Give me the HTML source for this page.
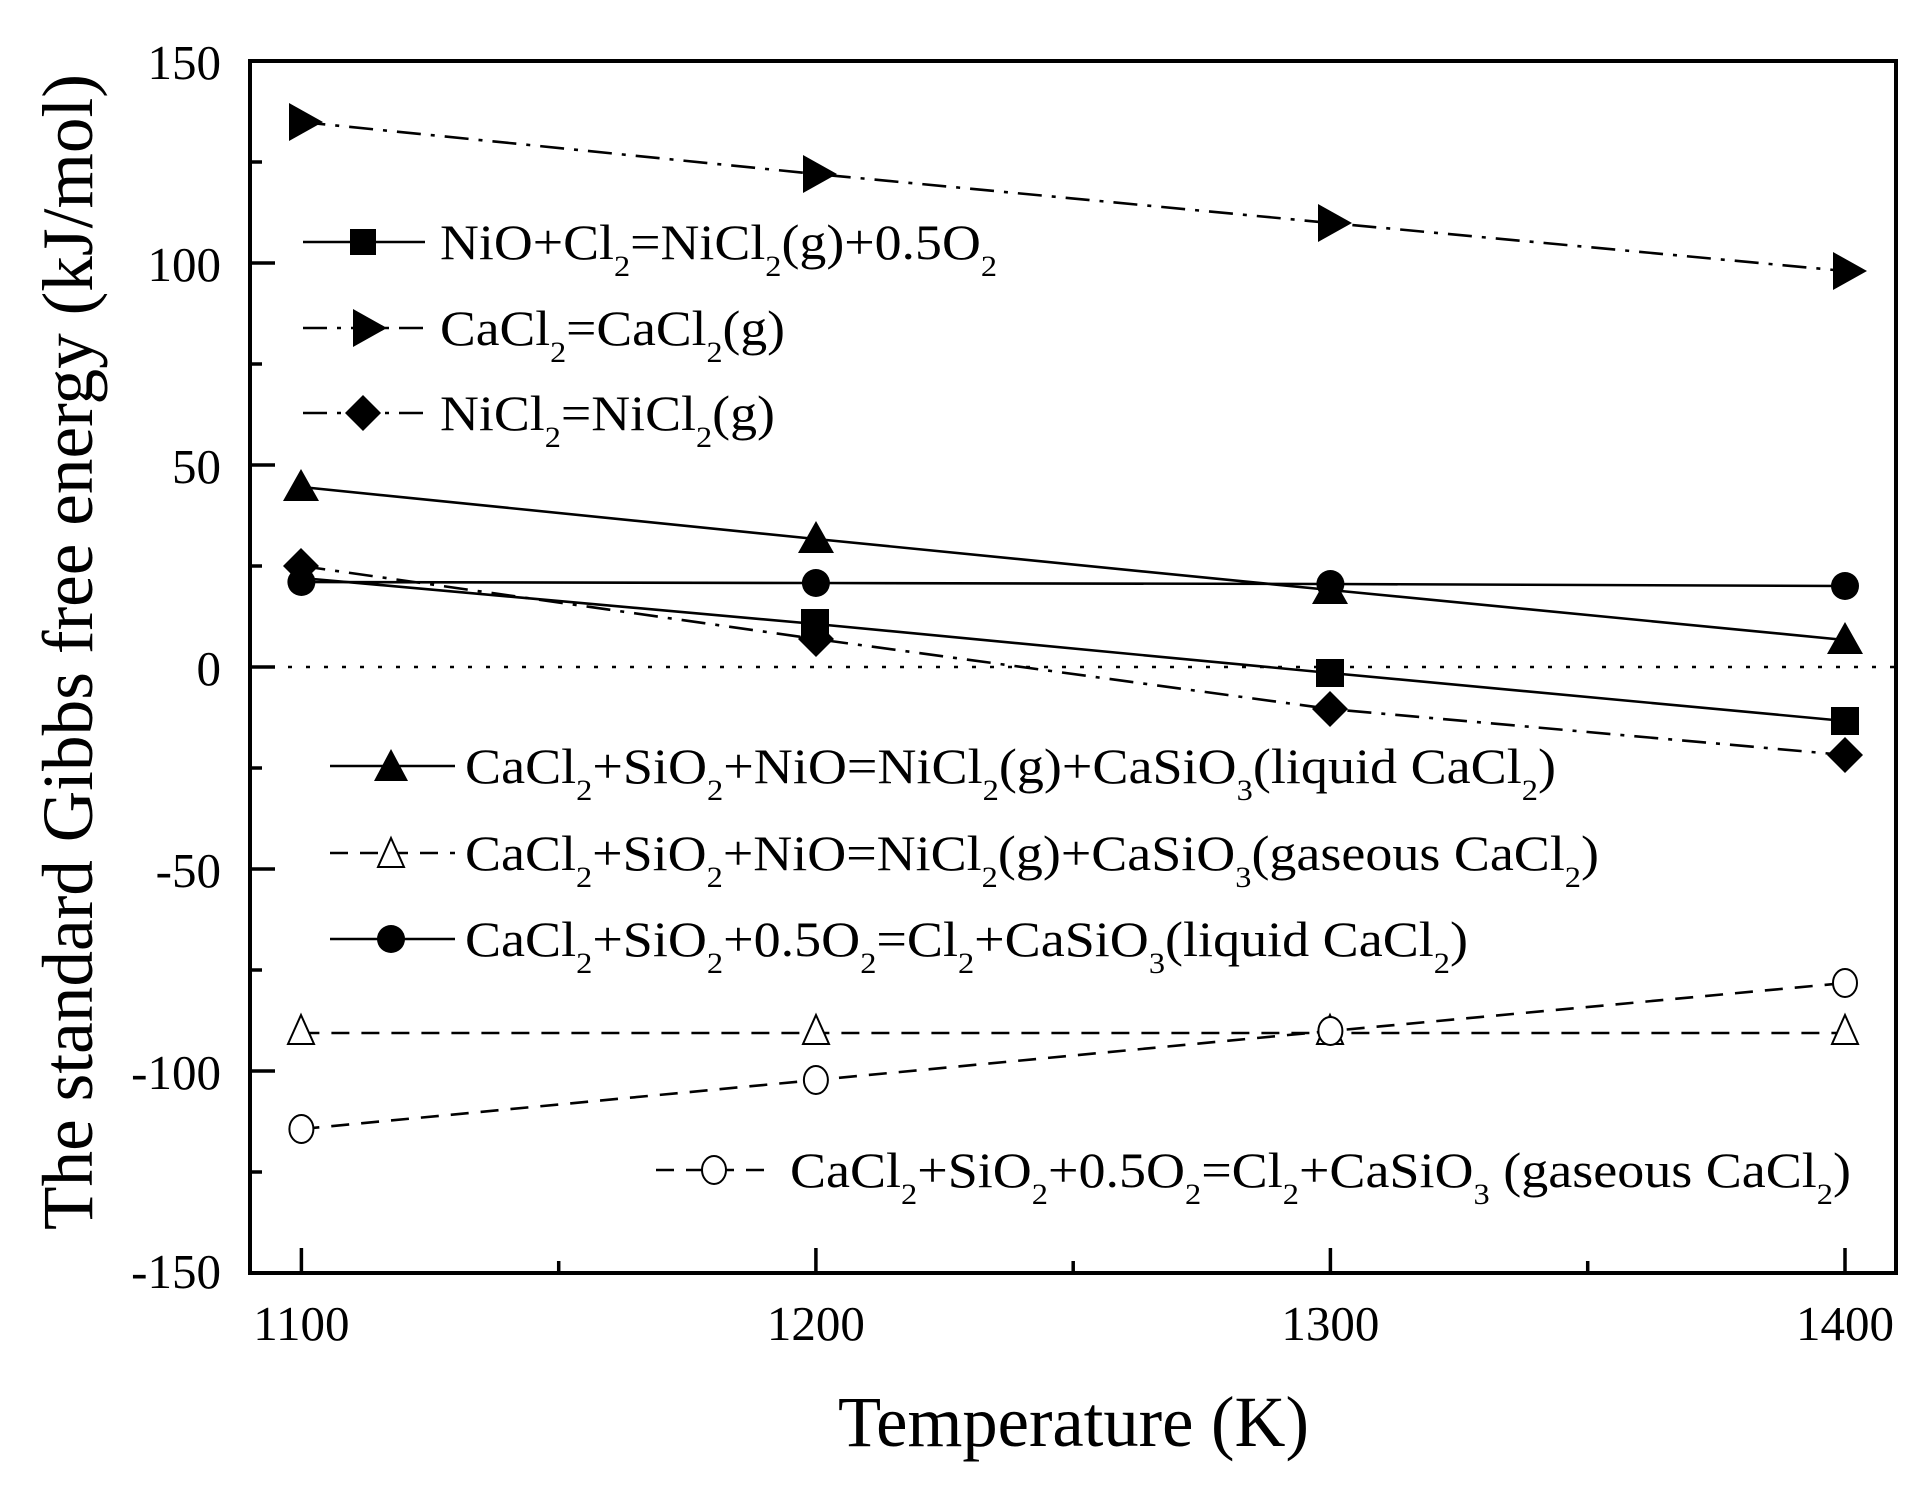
<!DOCTYPE html>
<html><head><meta charset="utf-8"><style>
html,body{margin:0;padding:0;background:#fff;}
svg{display:block;}
text{font-family:"Liberation Serif",serif;fill:#000;}
</style></head><body>
<svg width="1929" height="1495" viewBox="0 0 1929 1495" xmlns="http://www.w3.org/2000/svg">
<line x1="252" y1="667" x2="1894" y2="667" stroke="#000" stroke-width="2.5" stroke-dasharray="4,14"/>
<g fill="none" stroke="#000" stroke-width="2.6">
<polyline points="301.4,578 815.9,624 1330.4,673 1845,721"/>
<polyline points="301.4,122 815.9,174 1330.4,223 1845,271" stroke-dasharray="24,10,4,10"/>
<polyline points="301.4,566 815.9,639 1330.4,709 1845,755" stroke-dasharray="24,10,4,10"/>
<polyline points="301.4,487 815.9,539 1330.4,590 1845,640"/>
<polyline points="301.4,582 815.9,583 1330.4,584 1845,586"/>
<polyline points="301.4,1033 815.9,1033 1330.4,1033 1845,1033" stroke-dasharray="18,12"/>
<polyline points="301.4,1129 815.9,1080 1330.4,1031 1845,983" stroke-dasharray="18,12"/>
</g>
<g fill="#000">
<rect x="801" y="609" width="28" height="28"/><rect x="1316" y="659" width="28" height="28"/><rect x="1831" y="707" width="28" height="28"/>
<polygon points="289,103 323,122 289,141"/><polygon points="803,155 837,174 803,193"/><polygon points="1318,204 1352,223 1318,242"/><polygon points="1833,252 1867,271 1833,290"/>
<polygon points="301,548 319,566 301,584 283,566"/><polygon points="816,621 834,639 816,657 798,639"/><polygon points="1330,691 1348,709 1330,727 1312,709"/><polygon points="1845,737 1863,755 1845,773 1827,755"/>
<polygon points="301,469 319,501 283,501"/><polygon points="816,521 834,553 798,553"/><polygon points="1330,572 1348,604 1312,604"/><polygon points="1845,622 1863,654 1827,654"/>
<circle cx="301.4" cy="582" r="14"/><circle cx="815.9" cy="583" r="14"/><circle cx="1330.4" cy="584" r="14"/><circle cx="1845" cy="586" r="14"/>
</g>
<g fill="#fff" stroke="#000" stroke-width="2">
<polygon points="301,1015 314,1044 288,1044"/><polygon points="816,1015 829,1044 803,1044"/><polygon points="1330,1015 1343,1044 1317,1044"/><polygon points="1845,1015 1858,1044 1832,1044"/>
<ellipse cx="301.4" cy="1129" rx="12" ry="14"/><ellipse cx="815.9" cy="1080" rx="12" ry="14"/><ellipse cx="1330.4" cy="1031" rx="12" ry="14"/><ellipse cx="1845" cy="983" rx="12" ry="14"/>
</g>
<rect x="250" y="61" width="1646" height="1212" fill="none" stroke="#000" stroke-width="4"/>
<g stroke="#000" stroke-width="3.5">
<line x1="250" y1="263" x2="275" y2="263"/><line x1="250" y1="465" x2="275" y2="465"/><line x1="250" y1="667" x2="275" y2="667"/><line x1="250" y1="869" x2="275" y2="869"/><line x1="250" y1="1071" x2="275" y2="1071"/>
<line x1="250" y1="162" x2="262" y2="162"/><line x1="250" y1="364" x2="262" y2="364"/><line x1="250" y1="566" x2="262" y2="566"/><line x1="250" y1="768" x2="262" y2="768"/><line x1="250" y1="970" x2="262" y2="970"/><line x1="250" y1="1172" x2="262" y2="1172"/>
<line x1="301.4" y1="1273" x2="301.4" y2="1248"/><line x1="815.9" y1="1273" x2="815.9" y2="1248"/><line x1="1330.4" y1="1273" x2="1330.4" y2="1248"/><line x1="1845" y1="1273" x2="1845" y2="1248"/>
<line x1="558.7" y1="1273" x2="558.7" y2="1261"/><line x1="1073.2" y1="1273" x2="1073.2" y2="1261"/><line x1="1587.7" y1="1273" x2="1587.7" y2="1261"/>
</g>
<g font-size="49" text-anchor="end">
<text x="221" y="79">150</text><text x="221" y="281">100</text><text x="221" y="483">50</text><text x="221" y="685">0</text><text x="221" y="887">-50</text><text x="221" y="1089">-100</text><text x="221" y="1288">-150</text>
</g>
<g font-size="49" text-anchor="middle">
<text x="301.4" y="1340">1100</text><text x="815.9" y="1340">1200</text><text x="1330.4" y="1340">1300</text><text x="1845" y="1340">1400</text>
</g>
<text x="838" y="1446" font-size="72" textLength="471" lengthAdjust="spacingAndGlyphs">Temperature (K)</text>
<text transform="translate(92,1230) rotate(-90)" font-size="72" textLength="1156" lengthAdjust="spacingAndGlyphs">The standard Gibbs free energy (kJ/mol)</text>
<g stroke="#000" stroke-width="2.6">
<line x1="303" y1="242" x2="425" y2="242"/>
<line x1="303" y1="328" x2="425" y2="328" stroke-dasharray="24,10,4,10"/>
<line x1="303" y1="413" x2="425" y2="413" stroke-dasharray="24,10,4,10"/>
<line x1="330" y1="766" x2="455" y2="766"/>
<line x1="330" y1="853" x2="455" y2="853" stroke-dasharray="18,12"/>
<line x1="330" y1="939" x2="455" y2="939"/>
<line x1="656" y1="1170" x2="775" y2="1170" stroke-dasharray="18,12"/>
</g>
<rect x="350" y="229" width="26" height="26" fill="#000"/>
<polygon points="353,309 387,328 353,347" fill="#000"/>
<polygon points="363,395 381,413 363,431 345,413" fill="#000"/>
<polygon points="391,749 408,781 374,781" fill="#000"/>
<polygon points="391,838 404,867 378,867" fill="#fff" stroke="#000" stroke-width="2"/>
<circle cx="391" cy="939" r="14" fill="#000"/>
<ellipse cx="714" cy="1170" rx="12" ry="14" fill="#fff" stroke="#000" stroke-width="2"/>
<g font-size="50">
<text x="440" y="259" textLength="557" lengthAdjust="spacingAndGlyphs">NiO+Cl<tspan font-size="30" dy="17">2</tspan><tspan dy="-17">=NiCl</tspan><tspan font-size="30" dy="17">2</tspan><tspan dy="-17">(g)+0.5O</tspan><tspan font-size="30" dy="17">2</tspan></text>
<text x="440" y="345" textLength="345" lengthAdjust="spacingAndGlyphs">CaCl<tspan font-size="30" dy="17">2</tspan><tspan dy="-17">=CaCl</tspan><tspan font-size="30" dy="17">2</tspan><tspan dy="-17">(g)</tspan></text>
<text x="440" y="430" textLength="335" lengthAdjust="spacingAndGlyphs">NiCl<tspan font-size="30" dy="17">2</tspan><tspan dy="-17">=NiCl</tspan><tspan font-size="30" dy="17">2</tspan><tspan dy="-17">(g)</tspan></text>
<text x="465" y="783" textLength="1091" lengthAdjust="spacingAndGlyphs">CaCl<tspan font-size="30" dy="17">2</tspan><tspan dy="-17">+SiO</tspan><tspan font-size="30" dy="17">2</tspan><tspan dy="-17">+NiO=NiCl</tspan><tspan font-size="30" dy="17">2</tspan><tspan dy="-17">(g)+CaSiO</tspan><tspan font-size="30" dy="17">3</tspan><tspan dy="-17">(liquid CaCl</tspan><tspan font-size="30" dy="17">2</tspan><tspan dy="-17">)</tspan></text>
<text x="465" y="870" textLength="1134" lengthAdjust="spacingAndGlyphs">CaCl<tspan font-size="30" dy="17">2</tspan><tspan dy="-17">+SiO</tspan><tspan font-size="30" dy="17">2</tspan><tspan dy="-17">+NiO=NiCl</tspan><tspan font-size="30" dy="17">2</tspan><tspan dy="-17">(g)+CaSiO</tspan><tspan font-size="30" dy="17">3</tspan><tspan dy="-17">(gaseous CaCl</tspan><tspan font-size="30" dy="17">2</tspan><tspan dy="-17">)</tspan></text>
<text x="465" y="956" textLength="1003" lengthAdjust="spacingAndGlyphs">CaCl<tspan font-size="30" dy="17">2</tspan><tspan dy="-17">+SiO</tspan><tspan font-size="30" dy="17">2</tspan><tspan dy="-17">+0.5O</tspan><tspan font-size="30" dy="17">2</tspan><tspan dy="-17">=Cl</tspan><tspan font-size="30" dy="17">2</tspan><tspan dy="-17">+CaSiO</tspan><tspan font-size="30" dy="17">3</tspan><tspan dy="-17">(liquid CaCl</tspan><tspan font-size="30" dy="17">2</tspan><tspan dy="-17">)</tspan></text>
<text x="790" y="1187" textLength="1061" lengthAdjust="spacingAndGlyphs">CaCl<tspan font-size="30" dy="17">2</tspan><tspan dy="-17">+SiO</tspan><tspan font-size="30" dy="17">2</tspan><tspan dy="-17">+0.5O</tspan><tspan font-size="30" dy="17">2</tspan><tspan dy="-17">=Cl</tspan><tspan font-size="30" dy="17">2</tspan><tspan dy="-17">+CaSiO</tspan><tspan font-size="30" dy="17">3</tspan><tspan dy="-17"> (gaseous CaCl</tspan><tspan font-size="30" dy="17">2</tspan><tspan dy="-17">)</tspan></text>
</g>
</svg>
</body></html>
